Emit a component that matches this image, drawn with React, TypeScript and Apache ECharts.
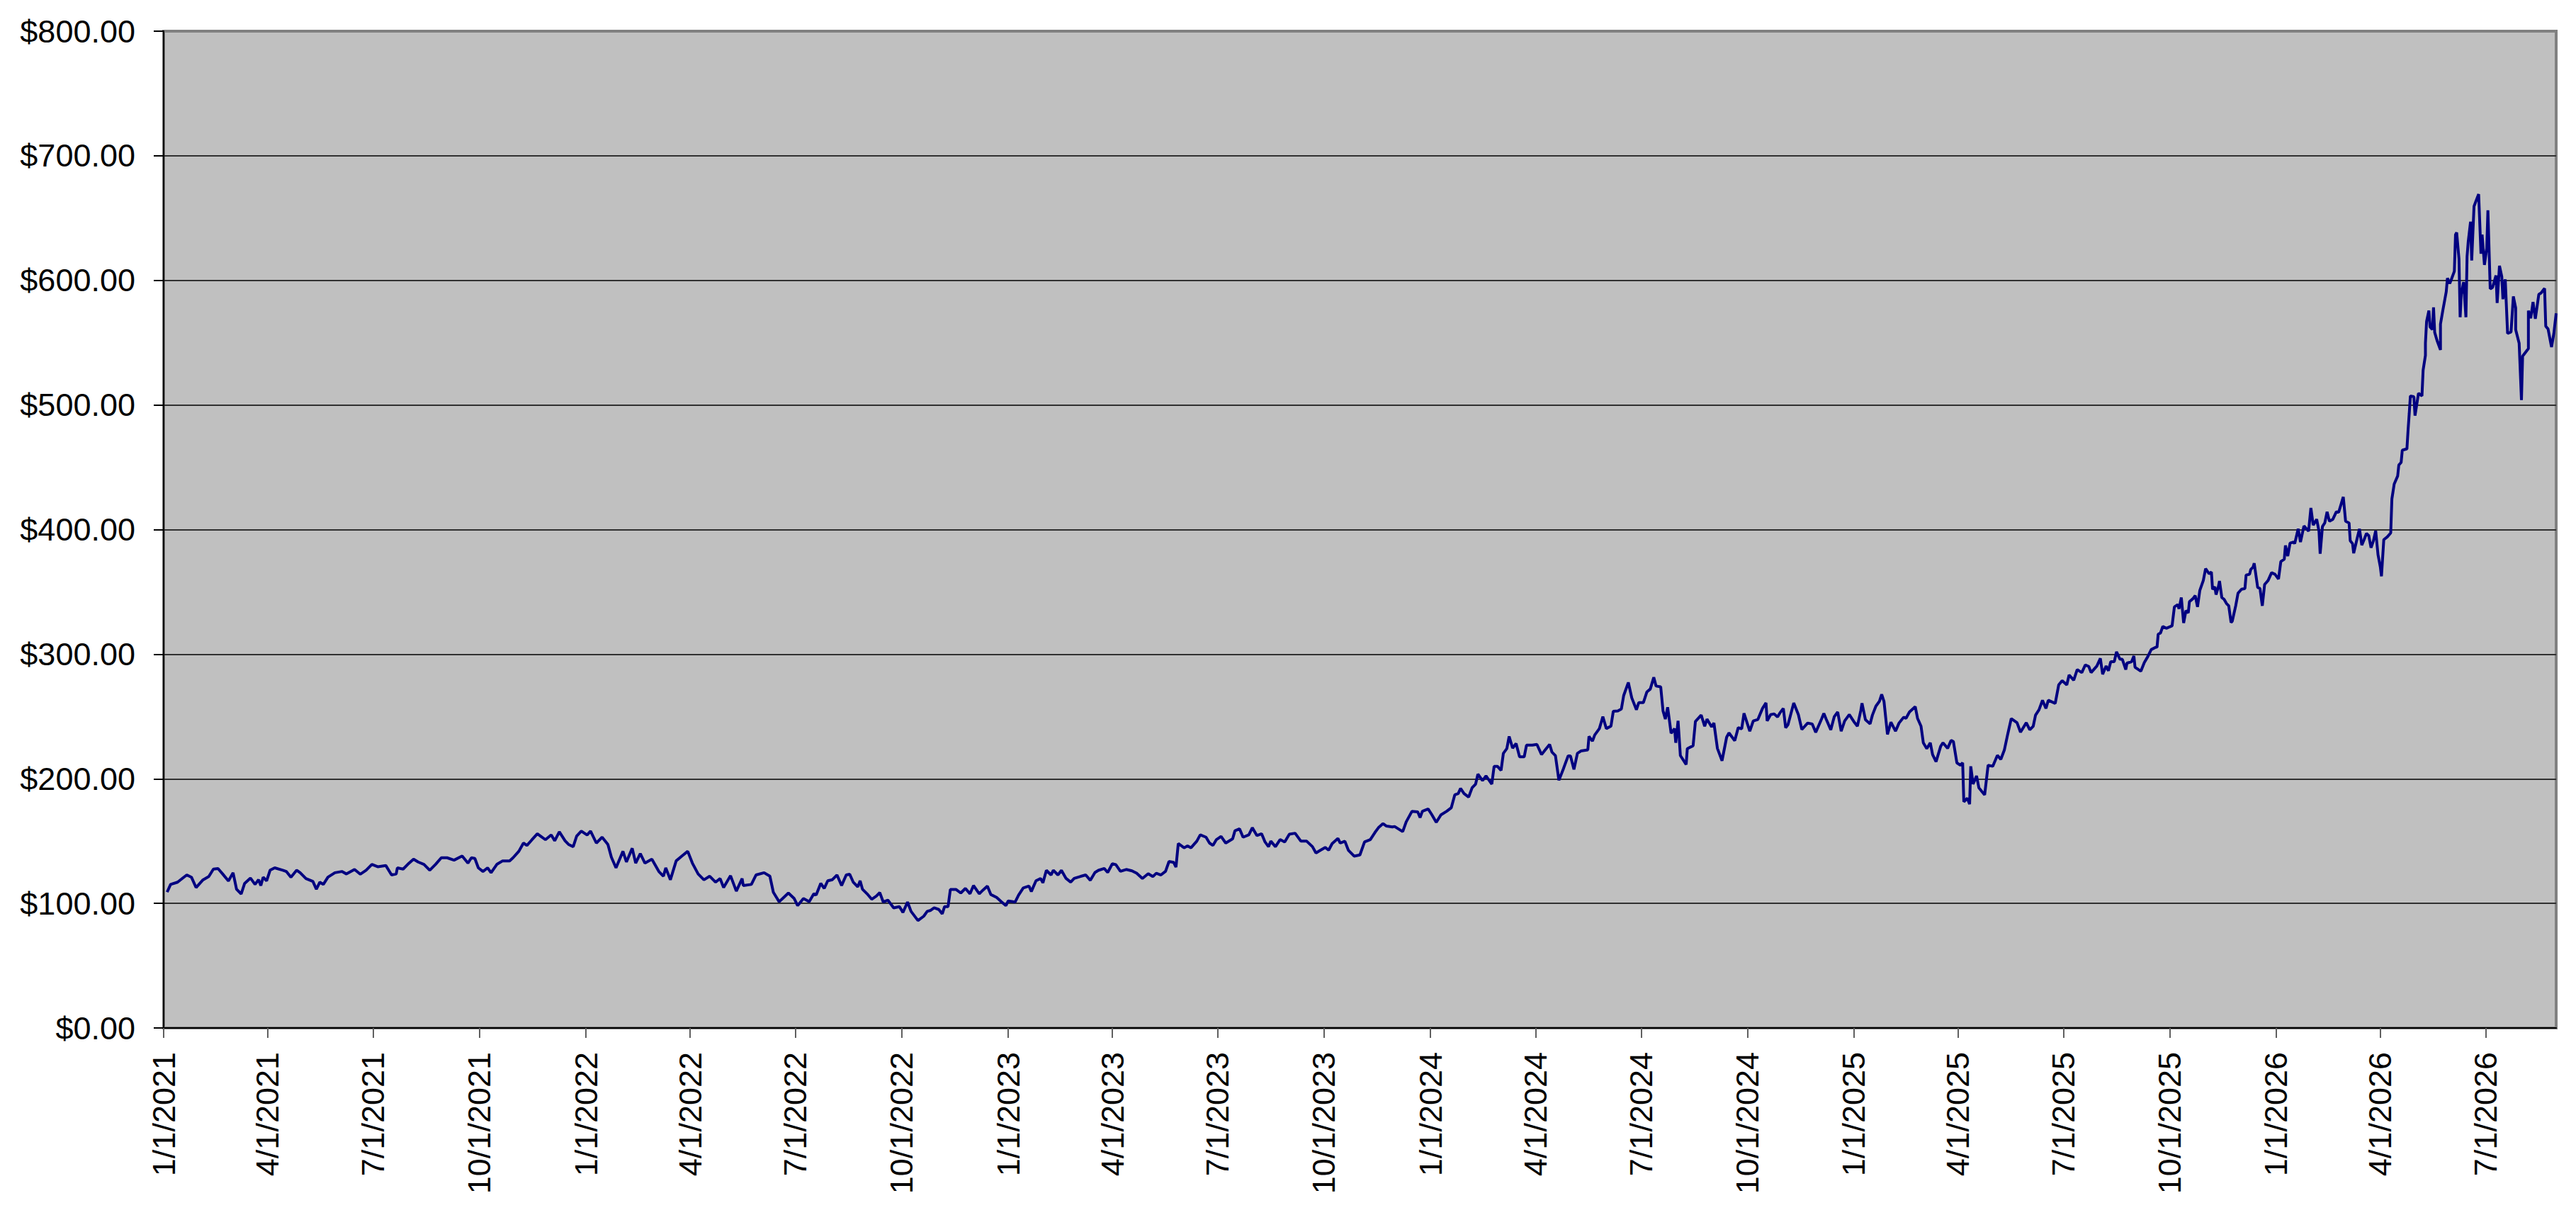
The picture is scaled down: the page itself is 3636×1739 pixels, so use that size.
import React, { useEffect, useRef } from "react";
import * as echarts from "echarts";

// x values: days since 1/1/2021; prices in dollars
const days2021 = [3,6,12,20,24,28,34,39,43,47,51,56,60,63,67,70,75,79,82,84,86,89,92,96,103,106,110,115,118,123,129,132,135,138,142,148,154,158,165,170,175,180,185,192,197,201,202,207,211,216,220,225,230,235,240,245,251,258,263,266,269,272,276,280,283,288,293,299,302,307,311,314,318,323,330,335,338,342,347,350,354,357,361,366,369,374,379,384,387,391,397,400,405,408,412,416,422,428,432,434,438,443,448,453,457,462,467,472,477,481,484,490,495,500,501,508,512,519,524,527,532];
const prices2021 = [109,115.2,117,122.8,121,112.7,118.9,121.5,127.5,127.9,123.6,118,124.6,111.4,107.6,116,120.3,115.2,119,114.3,121,118,126.6,128.5,126.6,125.6,121,126.6,124.6,119.9,117.6,111.4,117,115.2,121,124.6,125.6,123.6,127.2,123.4,126.6,131.3,129.4,130.4,122.8,123.6,128.5,127.5,131.3,135.5,133.2,131.3,126.6,131.3,136.6,136.6,134.7,138,132.3,136.6,136,128.5,125.6,128.5,124.6,131.3,134.1,134.1,136.6,141.8,148.4,146.5,150.7,155.9,151.1,154.9,150.2,157.4,150.2,147.3,145.5,154,158,154.9,158,148.4,153.1,147.3,137,128.5,141.8,133.2,144.2,132.3,139.9,132.3,135.5,125.6,121.8,128.5,118.9,134.1,138,141.8,132.3,123.6,118.9,121.8,117,119.9,112.7,122.2,109.8,119.9,114.3,115.2,122.8,124.6,121.8,108.9,101.3];

const days2022 = [536,540,545,548,553,558,562,564,568,571,574,578,582,586,590,593,596,600,602,604,608,612,616,619,622,626,631,636,639,643,646,652,657,660,663,666,670,673,675,678,680,685,689,693,697,700,705,708,712,715,720,724,728,730,736,739,743,748,750,754,758,760,763,767,769,773,776,780,784,787,792,797,801,805,808,813,816,820,823,827,832,837,841,846,851,855,858,862,866,869,873,875,877,882,885,888,893,896,901,904,907,910,914,918,924,926,930,933,938,941,945,949,952,955,957,961,965,969,973,978,983,988,993,996,1000,1004,1007,1010,1015,1017,1021,1024,1029,1034,1038,1043,1047,1050,1054,1057,1062];
const prices2022 = [104.8,108.3,103.9,98.2,103.9,101.4,107.7,106.7,116.1,112,118.1,119,122.8,114.3,122.8,123.4,117.1,113.3,118.1,111.4,107.7,103.3,105.8,108.6,101.1,102.6,96.4,97.4,92.7,101.1,93.6,86.2,89.7,93.6,94.4,96.4,95.1,91.6,97.4,97.4,111.1,111.1,108.3,112,107.7,114.3,107.7,110.5,113.9,107.1,104.8,101.4,98.2,102,101.1,106.7,112.4,113.9,109.5,118.1,120,116.5,126.5,122.8,126.5,122.8,126.5,120,117.1,120,121.5,122.8,118.5,124.8,126.5,128,124.8,131.8,131.1,125.7,127.2,126.1,124.2,120,123.8,121.5,124.2,122.8,125.7,133.6,132.9,129.1,148,144.6,146.1,144.6,149.9,155,153.1,148.4,146.5,151.2,153.7,148.4,151.8,158.3,159.8,153.1,155,160.7,154.4,155.9,149.3,145.5,149.9,145.5,151.2,149.3,155.5,156.3,149.9,149.9,145.5,140.4,142.7,144.9,142.7,148,152.1,148.4,149.9,142.7,137.9,138.9,149.3,151.2,156.9,160.7,164,162,161.3];

const days2024 = [1064,1071,1074,1079,1084,1086,1088,1093,1096,1100,1104,1109,1113,1116,1119,1121,1124,1128,1131,1134,1136,1140,1143,1148,1150,1153,1156,1158,1161,1163,1166,1169,1172,1176,1178,1183,1187,1191,1195,1198,1200,1203,1206,1210,1214,1216,1219,1222,1225,1231,1232,1235,1237,1241,1244,1247,1251,1253,1257,1260,1262,1266,1269,1273,1275,1279,1282,1285,1288,1290,1294,1296,1298,1300,1303,1306,1307,1309,1311,1316,1317,1322,1324,1329,1332,1334,1338,1340,1343,1347,1351,1353,1358,1361,1364,1366,1371,1374,1378,1382,1385,1386,1389,1392,1395,1397,1400,1402,1404,1409,1413,1416,1421,1425,1428,1433,1435,1437,1441,1444,1447,1450,1453,1457,1461,1464,1467,1468,1471,1475,1477,1480,1483,1485,1487,1490,1493,1497,1500,1504,1506,1509,1514,1516,1519,1521,1524,1527,1529,1532,1536,1538,1542,1545,1547,1550,1553,1555,1556,1559,1561,1562,1564,1567,1569,1574,1577,1581,1585,1588,1591,1594,1597];
const prices2024 = [161.7,157.6,165.4,173.9,173.4,168.8,173.9,175.8,171.4,165,171,173.9,176.8,187.1,188.1,192.3,188.1,185.3,192.8,195.7,203.7,198.5,202.3,195.7,209.9,209.9,206.7,220.4,224.2,234,224.6,228.3,217.6,217.6,227,227,227.6,219.4,224.2,227.6,221.4,218.6,198.8,208.3,218.4,218.4,207.5,220.4,222.3,223.2,234,230.2,235.2,240.3,249.8,240.3,242.2,254.1,254.5,256,266.8,277.3,264.9,255.4,261.1,261.1,269.6,272,281.4,274.4,273.8,254.5,247.9,257.4,236.5,240.3,228.9,246.5,218.6,211.4,224.2,226.5,246,251.1,242.2,247.9,241.6,244.7,224.4,214.5,233.4,236.8,230.6,241,240.1,252.5,238.2,246.4,247.6,256.5,260.9,246.4,251.5,252.1,249.6,252.8,256.5,241,243.3,260.9,251.5,239.5,244.7,243.9,237.2,247.9,252.5,247.9,239.3,249.8,253.6,238.2,246.4,251.5,245.8,242.2,254.9,260.6,247.3,244.1,251.1,258.3,262.1,267.8,262.1,235.6,245.4,238.2,244.7,249.4,248.5,253.6,257.9,248.5,242.2,228.9,224.2,228.9,219.4,213.7,226.1,228.9,224.4,230.8,229.8,212.8,210.9,212.8,181.5,184.4,179.6,210,195.7,202.3,192.8,187.1,210.9,210,218.8,215.6,223,236,248.3];

const days2025 = [1602,1605,1610,1613,1616,1618,1621,1624,1627,1629,1635,1638,1641,1645,1647,1651,1654,1658,1661,1664,1666,1671,1674,1676,1679,1681,1683,1686,1688,1691,1693,1696,1697,1701,1703,1704,1709,1712,1715,1718,1722,1723,1724,1726,1728,1731,1736,1738,1741,1742,1744,1746,1748,1750,1751,1754,1756,1758,1760,1763,1765,1768,1770,1771,1773,1774,1776,1777,1779,1781,1783,1785,1787,1788,1791,1793,1796,1799,1800,1803,1804,1806,1807,1810,1812,1814,1816,1819,1822,1825,1828,1830,1833,1834,1836,1838,1841,1842,1845,1847,1850,1854,1856,1858,1861,1863,1864,1866,1868,1870,1872,1875,1878,1880,1884,1886,1889,1890,1892];
const prices2025 = [245,237.4,245,239.3,242.2,251.1,255.4,263,256.4,263,260.5,275.3,278.7,275.3,283.3,279.1,287.6,285.2,291.4,290.1,285.2,290.5,296.6,283.9,290.5,286.7,293.9,293.9,301.9,295.9,295.9,287.6,292.8,293.9,298.5,289.5,286.3,293.3,298,303.7,305.6,305.6,316,317,322.3,320.8,322.7,337.9,339.8,336.4,345.5,325,335,333.1,342.1,344.5,347,337.9,351.2,359.1,368.6,364.5,366,352.1,354,347.8,354,358.7,345.5,344,340.7,338.8,325.4,326.4,338.8,348.9,352.1,352.7,363.5,364.1,367.9,369.8,373,353.5,352.7,338.8,355.9,359.1,365.4,364.1,360.3,374.3,376.2,387.2,378.7,389.1,390,388.7,400.6,390,402.9,398.7,417.3,403.5,408.3,398.7,380.6,402.5,405.3,414.3,406.7,408.3,414.3,413.9,426.2,406.7,405.3,391.1,388.7];

const days2026 = [1893,1896,1898,1900,1902,1904,1906,1908,1910,1912,1914,1916,1917,1919,1922,1925,1926,1928,1931,1932,1934,1935,1939,1940,1941,1942,1945,1946,1949,1952,1953,1955,1955,1956,1958,1959,1961,1962,1963,1965,1968,1968,1970,1973,1974,1976,1977,1980,1981,1982,1984,1985,1986,1988,1990,1991,1992,1994,1995,1997,1999,2001,2003,2004,2006,2008,2009,2011,2013,2016,2017,2019,2021,2022,2024,2026,2029,2031,2033,2033,2036,2038,2039,2044,2044,2046,2048,2050,2053,2055,2058,2059,2061,2064,2066,2068];
const prices2026 = [381,393,400.6,387.5,391.9,396.9,395.2,385.4,390.8,399.1,379.9,370.1,362.5,391.9,394.1,397.3,424.5,436.5,443,451.8,453.9,463.7,464.8,480,493.1,507.2,506.6,491.4,509.4,507.2,527.9,539.8,549.6,567,575.7,562.7,560.5,578.3,558.3,551.8,544.2,564.9,575.7,591,601.8,597.5,599.7,607.3,636.7,638.4,617.1,570.4,588.8,598.6,570.4,619.3,631.2,647.1,616,659.4,664.4,669.2,621.4,636.7,612.4,625.8,656.2,593.2,594.3,604,581.9,611.7,603,584.9,600.8,557.4,558.5,587.1,577.9,560.5,549.6,504,539.2,545.3,575.7,569.6,582.7,569.2,588.8,589.9,593.6,563.2,561,546.5,557.4,573.6];

const xTickLabels = [
  "1/1/2021", "4/1/2021", "7/1/2021", "10/1/2021",
  "1/1/2022", "4/1/2022", "7/1/2022", "10/1/2022",
  "1/1/2023", "4/1/2023", "7/1/2023", "10/1/2023",
  "1/1/2024", "4/1/2024", "7/1/2024", "10/1/2024",
  "1/1/2025", "4/1/2025", "7/1/2025", "10/1/2025",
  "1/1/2026", "4/1/2026", "7/1/2026",
];

const yMin = 0;
const yMax = 800;
const yStep = 100;

const DAY_MS = 86400000;
const BASE = Date.UTC(2021, 0, 1);

function parseMDY(s: string): number {
  const [m, d, y] = s.split("/").map(Number);
  return Math.round((Date.UTC(y, m - 1, d) - BASE) / DAY_MS);
}

function fmtMDY(dayOffset: number): string {
  const d = new Date(BASE + Math.round(dayOffset) * DAY_MS);
  return `${d.getUTCMonth() + 1}/${d.getUTCDate()}/${d.getUTCFullYear()}`;
}

export default function App() {
  const ref = useRef<HTMLDivElement>(null);

  useEffect(() => {
    if (!ref.current) return;
    const chart = echarts.init(ref.current, undefined, { renderer: "svg" });

    const allDays = [...days2021, ...days2022, ...days2024, ...days2025, ...days2026];
    const allPrices = [...prices2021, ...prices2022, ...prices2024, ...prices2025, ...prices2026];
    const data = allDays.map((d, i) => [d, allPrices[i]]);
    const tickValues = xTickLabels.map(parseMDY);
    const xMax = allDays[allDays.length - 1];

    const font = "'Liberation Sans', Arial, Helvetica, sans-serif";
    const gridColors = ["#000000", "#303030", "#303030", "#303030", "#303030", "#303030", "#303030", "#303030", "#808080"];

    chart.setOption({
      animation: false,
      backgroundColor: "#ffffff",
      grid: {
        left: 231,
        right: 28,
        top: 44,
        bottom: 288,
        show: true,
        backgroundColor: "#C0C0C0",
        borderColor: "#808080",
        borderWidth: 4,
        containLabel: false,
      },
      xAxis: {
        type: "value",
        min: 0,
        max: xMax,
        axisLine: { show: true, onZero: false, lineStyle: { color: "#000000", width: 2 } },
        axisTick: {
          show: true,
          customValues: tickValues,
          length: 14,
          lineStyle: { color: "#606060", width: 2 },
        },
        axisLabel: {
          show: true,
          customValues: tickValues,
          rotate: 90,
          margin: 34,
          fontSize: 45,
          fontFamily: font,
          color: "#000000",
          hideOverlap: false,
          showMinLabel: true,
          showMaxLabel: true,
          formatter: (v: number) => fmtMDY(v),
        },
        splitLine: { show: false },
        minorTick: { show: false },
      },
      yAxis: {
        type: "value",
        min: yMin,
        max: yMax,
        interval: yStep,
        axisLine: { show: true, lineStyle: { color: "#000000", width: 2 } },
        axisTick: { show: true, length: 14, lineStyle: { color: "#000000", width: 2 } },
        axisLabel: {
          margin: 40,
          fontSize: 45,
          fontFamily: font,
          color: "#000000",
          formatter: (v: number) => "$" + v.toFixed(2),
        },
        splitLine: { show: true, lineStyle: { color: gridColors, width: 2 } },
      },
      series: [
        {
          type: "line",
          data,
          showSymbol: false,
          symbol: "none",
          lineStyle: { color: "#000080", width: 4 },
          itemStyle: { color: "#000080" },
          clip: true,
        },
      ],
    });

    return () => chart.dispose();
  }, []);

  return (
    <div
      ref={ref}
      style={{ position: "absolute", left: 0, top: 0, width: 3636, height: 1739 }}
    />
  );
}
